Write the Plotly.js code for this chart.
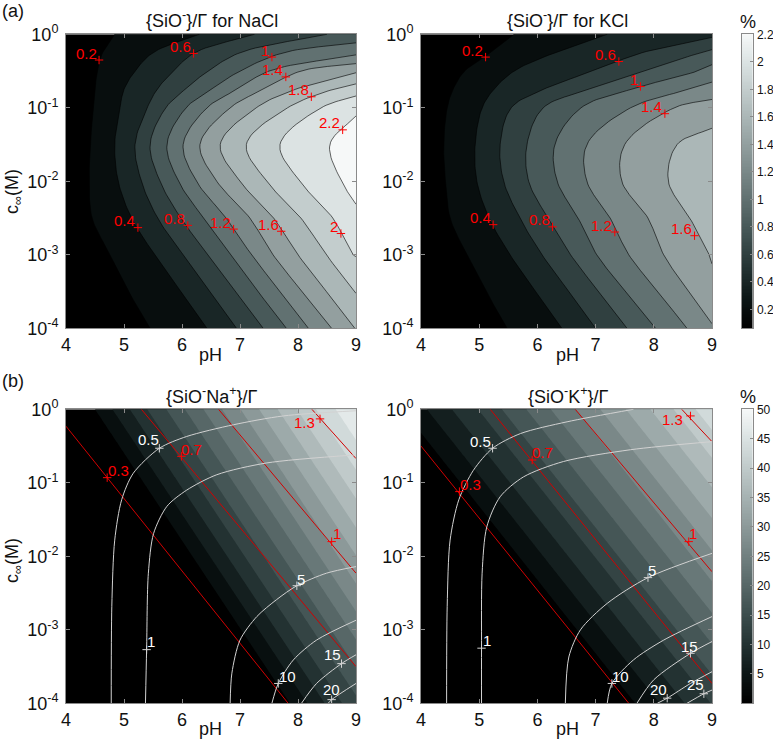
<!DOCTYPE html>
<html><head><meta charset="utf-8">
<script src="https://cdn.plot.ly/plotly-3.0.1.min.js"></script>
<style>body{margin:0;background:#fff}#chart{width:773px;height:741px}</style>
</head><body><div id="chart"></div><script>
// ================= DATA =================
const rowLogC = [0, -0.25, -0.5, -0.75, -1, -1.5, -2, -2.5, -3, -3.5, -4];
const topLevels = [0.2, 0.4, 0.6, 0.8, 1.0, 1.2, 1.4, 1.6, 1.8, 2.0, 2.2];
// pH at which each level is crossed, per row (NaCl)
const naclCross = [
  [4.84, 6.3, 7.25, 8.5],
  [4.63, 5.5, 6.22, 7.0, 7.75],
  [4.54, 5.19, 5.85, 6.45, 7.0, 7.5, 8.05],
  [4.5, 5.0, 5.57, 6.05, 6.5, 6.95, 7.4, 7.95, 8.6],
  [4.47, 4.93, 5.4, 5.72, 6.07, 6.43, 6.83, 7.28, 7.82, 8.4],
  [4.42, 4.84, 5.19, 5.45, 5.74, 6.02, 6.31, 6.66, 7.11, 7.69, 8.55],
  [4.40, 4.90, 5.30, 5.62, 5.94, 6.25, 6.6, 7.0, 7.46, 8.03, 8.75],
  [4.45, 5.13, 5.58, 5.98, 6.37, 6.76, 7.17, 7.58, 8.05, 8.6],
  [4.76, 5.53, 6.02, 6.45, 6.83, 7.20, 7.57, 8.0, 8.49, 8.95],
  [5.08, 5.98, 6.48, 6.93, 7.31, 7.69, 8.07, 8.49, 8.97],
  [5.45, 6.43, 6.94, 7.40, 7.80, 8.18, 8.58, 8.98]
];
const naclAtPH9 = [0.87, 1.15, 1.57, 1.9, 2.18, 2.27, 2.25, 2.17, 2.01, 1.81, 1.61];
const kclCross = [
  [5.6, 7.2],
  [5.2, 6.3, 7.8, 8.8],
  [4.75, 5.6, 6.95, 7.85, 8.75],
  [4.55, 5.25, 6.1, 6.9, 7.6, 8.6],
  [4.45, 5.05, 5.55, 6.1, 6.75, 7.6, 8.35],
  [4.39, 4.93, 5.36, 5.82, 6.3, 6.85, 7.5, 8.4],
  [4.42, 4.96, 5.42, 5.85, 6.34, 6.85, 7.45, 8.25],
  [4.5, 5.17, 5.7, 6.18, 6.7, 7.25, 7.9, 8.62],
  [4.79, 5.53, 6.08, 6.57, 7.02, 7.57, 8.17, 8.95],
  [5.12, 5.97, 6.54, 7.05, 7.52, 8.07, 8.6],
  [5.48, 6.42, 7.0, 7.54, 8.03, 8.57]
];
const kclAtPH9 = [0.55, 0.85, 1.08, 1.28, 1.5, 1.68, 1.75, 1.72, 1.62, 1.54, 1.38];

const naclLabVal = ['0.2','0.6','1','1.4','1.8','2.2','0.4','0.8','1.2','1.6','2'];
const naclLabPH  = [4.57, 6.20, 7.55, 7.79, 8.23, 8.77, 5.24, 6.10, 6.89, 7.71, 8.74];
const naclLabLC  = [-0.35, -0.26, -0.31, -0.58, -0.85, -1.30, -2.63, -2.60, -2.65, -2.68, -2.71];
const kclLabVal = ['0.2','0.6','1','1.4','0.4','0.8','1.2','1.6'];
const kclLabPH  = [5.11, 7.40, 7.77, 8.19, 5.24, 6.26, 7.33, 8.70];
const kclLabLC  = [-0.31, -0.37, -0.71, -1.08, -2.59, -2.62, -2.69, -2.74];

// bottom: filled bands {SiO-M+}/Gamma (%) - levels, and pH where each crosses log c = 0 and log c = -4
const fillLevels = [3.3333,6.6667,10,13.3333,16.6667,20,23.3333,26.6667,30,33.3333,36.6667,40,43.3333,46.6667];
const naFillTop = [4.5, 4.8, 5.1, 5.4, 5.73, 6.05, 6.37, 6.69, 7.01, 7.33, 7.65, 7.98, 8.31, 8.65];
const naFillBot = [7.86, 8.16, 8.46, 8.76, 9.09, 9.41, 9.73, 10.05, 10.37, 10.69, 11.01, 11.34, 11.67, 12.01];
const kFillTop = [3.68, 4.1, 4.53, 4.98, 5.39, 5.81, 6.23, 6.66, 7.08, 7.52, 7.94, 8.34, 8.72, 9.1];
const kFillBot = [7.68, 8.1, 8.53, 8.98, 9.39, 9.81, 10.23, 10.66, 11.08, 11.52, 11.94, 12.34, 12.72, 13.1];

const naRedVal = ['0.3','0.7','1','1.3'];
const naRedPH = [[4.0, 7.83], [5.30, 9.0], [6.63, 9.0], [8.24, 9.0]];
const naRedLC = [[-0.23, -4], [0, -3.5], [0, -2.23], [0, -0.67]];
const naRedLabPH = [4.71, 5.99, 8.58, 8.38];
const naRedLabLC = [-0.93, -0.64, -1.80, -0.13];
const kRedVal = ['0.3','0.7','1','1.3'];
const kRedPH = [[4.0, 7.57], [5.19, 9.0], [6.65, 9.0], [8.48, 9.0]];
const kRedLC = [[-0.5, -4], [0, -3.73], [0, -2.21], [0, -0.44]];
const kRedLabPH = [4.66, 5.91, 8.60, 8.63];
const kRedLabLC = [-1.12, -0.69, -1.80, -0.09];

const naWhiteVal = ['0.5','1','5','10','15','20'];
const naWhitePH = [
  [4.78, 4.79, 4.84, 4.96, 5.16, 5.61, 6.08, 6.89, 7.75, 9.0],
  [5.37, 5.39, 5.42, 5.51, 5.74, 6.08, 6.60, 7.46, 9.0],
  [6.83, 6.86, 7.0, 7.29, 7.63, 7.98, 8.49, 9.0],
  [7.55, 7.66, 7.92, 8.32, 9.0],
  [8.06, 8.32, 8.75, 9.0],
  [8.52, 8.58, 9.0]
];
const naWhiteLC = [
  [-4, -2.68, -1.78, -1.23, -0.87, -0.53, -0.37, -0.21, -0.09, -0.02],
  [-4, -3.27, -2.23, -1.69, -1.32, -1.10, -0.89, -0.73, -0.62],
  [-4, -3.59, -3.14, -2.82, -2.59, -2.40, -2.23, -2.14],
  [-4, -3.73, -3.41, -3.14, -2.87],
  [-4, -3.73, -3.46, -3.34],
  [-4, -3.95, -3.73]
];
const naWhiteLabPH = [5.61, 5.39, 7.98, 7.66, 8.75, 8.58];
const naWhiteLabLC = [-0.53, -3.27, -2.40, -3.73, -3.46, -3.95];
const kWhiteVal = ['0.5','1','5','10','15','20','25'];
const kWhitePH = [
  [4.44, 4.45, 4.50, 4.65, 4.90, 5.23, 5.71, 6.51, 7.65],
  [5.04, 5.04, 5.05, 5.13, 5.36, 5.76, 6.45, 7.60, 9.0],
  [6.48, 6.54, 6.74, 7.20, 7.90, 9.0],
  [7.20, 7.28, 7.65, 8.17, 9.0],
  [7.71, 8.0, 8.63, 9.0],
  [8.06, 8.23, 8.63, 9.0],
  [8.57, 8.86, 9.0]
];
const kWhiteLC = [
  [-4, -2.68, -1.78, -1.23, -0.83, -0.53, -0.33, -0.17, 0],
  [-4, -3.25, -2.23, -1.60, -1.19, -0.92, -0.71, -0.55, -0.44],
  [-4, -3.37, -3.0, -2.64, -2.29, -1.96],
  [-4, -3.73, -3.41, -3.14, -2.82],
  [-4, -3.68, -3.32, -3.16],
  [-4, -3.93, -3.73, -3.57],
  [-4, -3.87, -3.82]
];
const kWhiteLabPH = [5.23, 5.04, 7.90, 7.28, 8.63, 8.23, 8.86];
const kWhiteLabLC = [-0.53, -3.25, -2.29, -3.73, -3.32, -3.93, -3.87];

const xTicks = [4, 5, 6, 7, 8, 9];
const yTicks = [-4, -3, -2, -1, 0];
const yTickText = ['10<sup>-4</sup>','10<sup>-3</sup>','10<sup>-2</sup>','10<sup>-1</sup>','10<sup>0</sup>'];
const cbTopTicks = [0.2,0.4,0.6,0.8,1,1.2,1.4,1.6,1.8,2,2.2];
const cbBotTicks = [5,10,15,20,25,30,35,40,45,50];

// ================= STYLE / HELPERS =================
const F = '"Liberation Sans", Arial, Helvetica, sans-serif';
const W = 773, H = 741;
const cmapStops = [
  [0.0, [0,0,0]], [0.1, [12,22,22]], [0.2, [35,50,50]], [0.3, [60,77,77]],
  [0.4, [87,103,103]], [0.5, [113,128,128]], [0.6, [140,153,153]], [0.7, [166,178,178]],
  [0.8, [192,202,202]], [0.9, [218,226,226]], [1.0, [246,248,248]]
];
function cmap(t){
  t = Math.max(0, Math.min(1, t));
  for (let i = 1; i < cmapStops.length; i++) {
    if (t <= cmapStops[i][0] + 1e-12) {
      const [t0, c0] = cmapStops[i-1], [t1, c1] = cmapStops[i];
      const f = (t - t0) / (t1 - t0);
      return 'rgb(' + c0.map((v, j) => Math.round(v + (c1[j] - v) * f)).join(',') + ')';
    }
  }
  return 'rgb(246,248,248)';
}
function bandScale(levels, cmin, cmax){
  const nc = levels.length, sc = [[0, cmap(0)]];
  for (let k = 1; k <= nc; k++) sc.push([k / nc, cmap((levels[k-1] - cmin) / (cmax - cmin))]);
  return sc;
}
function lin(xs, zs, x){
  if (x <= xs[0]) return zs[0];
  for (let i = 1; i < xs.length; i++) if (x <= xs[i]) { const f = (x - xs[i-1]) / (xs[i] - xs[i-1]); return zs[i-1] + f * (zs[i] - zs[i-1]); }
  return zs[zs.length - 1];
}
function linEx(xs, zs, x){
  const n = xs.length;
  if (x <= xs[0]) return zs[0] + (x - xs[0]) * (zs[1] - zs[0]) / (xs[1] - xs[0]);
  if (x >= xs[n-1]) return zs[n-1] + (x - xs[n-1]) * (zs[n-1] - zs[n-2]) / (xs[n-1] - xs[n-2]);
  return lin(xs, zs, x);
}
const SX = 58, SY = 73.5;
function catmull(pts, n){
  const m = pts.length;
  if (m < 2) return pts.slice();
  const P = [[2*pts[0][0]-pts[1][0], 2*pts[0][1]-pts[1][1]], ...pts,
             [2*pts[m-1][0]-pts[m-2][0], 2*pts[m-1][1]-pts[m-2][1]]];
  const dd = (a, b) => Math.pow(Math.hypot((a[0]-b[0])*SX, (a[1]-b[1])*SY), 0.5) + 1e-6;
  const lerp = (a, b, ta, tb, t) => [a[0] + (b[0]-a[0])*(t-ta)/(tb-ta), a[1] + (b[1]-a[1])*(t-ta)/(tb-ta)];
  const out = [];
  for (let i = 1; i < P.length - 2; i++) {
    const p0 = P[i-1], p1 = P[i], p2 = P[i+1], p3 = P[i+2];
    const t0 = 0, t1 = t0 + dd(p0, p1), t2 = t1 + dd(p1, p2), t3 = t2 + dd(p2, p3);
    for (let k = 0; k < n; k++) {
      const t = t1 + (t2 - t1) * k / n;
      const A1 = lerp(p0, p1, t0, t1, t), A2 = lerp(p1, p2, t1, t2, t), A3 = lerp(p2, p3, t2, t3, t);
      const B1 = lerp(A1, A2, t0, t2, t), B2 = lerp(A2, A3, t1, t3, t);
      out.push(lerp(B1, B2, t1, t2, t));
    }
  }
  out.push(pts[m-1]);
  return out;
}
function levelCurve(cross, atPH9, i){
  const L = topLevels[i], pts = [];
  for (let r = 0; r < rowLogC.length; r++) {
    if (r > 0) {
      const z0 = atPH9[r-1] - L, z1 = atPH9[r] - L;
      if (z0 * z1 < 0) { const f = z0 / (z0 - z1); pts.push([9, rowLogC[r-1] + f * (rowLogC[r] - rowLogC[r-1])]); }
    }
    const p = cross[r][i];
    if (p != null && p > 4 && p < 9) pts.push([p, rowLogC[r]]);
  }
  return pts;
}

const topCmin = 0.062, topCmax = 2.2, botCmin = 0, botCmax = 50;
const data = [];
function addTopPanel(cross, atPH9, xa, ya){
  data.push({type:'scatter', mode:'lines', x:[4, 9, 9, 4], y:[-4, -4, 0, 0], fill:'toself', fillcolor:cmap(0),
    line:{width:0}, xaxis:xa, yaxis:ya, hoverinfo:'skip', showlegend:false});
  const curves = [];
  topLevels.forEach((L, i) => {
    const pts = levelCurve(cross, atPH9, i);
    if (pts.length < 2) return;
    const c = catmull(pts, 14);
    curves.push(c);
    const S = c[0], E = c[c.length - 1];
    const Ep = (E[1] <= -3.999) ? [E[0], -4.6] : [9.6, E[1]];
    const Sp = (S[1] >= -0.001) ? [S[0], 0.6] : [9.6, S[1]];
    const poly = c.concat([Ep, [9.6, Ep[1]], [9.6, Sp[1]], Sp]);
    data.push({type:'scatter', mode:'lines', x:poly.map(p => p[0]), y:poly.map(p => p[1]), fill:'toself',
      fillcolor:cmap((L - topCmin) / (topCmax - topCmin)), line:{width:0}, xaxis:xa, yaxis:ya,
      hoverinfo:'skip', showlegend:false});
  });
  curves.forEach(c => data.push({type:'scatter', mode:'lines', x:c.map(p => p[0]), y:c.map(p => p[1]),
    line:{color:'#000', width:0.6}, xaxis:xa, yaxis:ya, hoverinfo:'skip', showlegend:false}));
}
addTopPanel(naclCross, naclAtPH9, 'x', 'y');
addTopPanel(kclCross, kclAtPH9, 'x2', 'y2');

const gx = []; for (let i = 0; i <= 200; i++) gx.push(4 + i * 0.025);
const gy = []; for (let i = 0; i <= 100; i++) gy.push(-4 + i * 0.04);
function buildFillGrid(topPH, botPH){
  return gy.map(y => { const f = -y / 4; const ps = topPH.map((t, k) => t + (botPH[k] - t) * f);
    return gx.map(x => linEx(ps, fillLevels, x)); });
}
const fStart = fillLevels[0], fEnd = fillLevels[fillLevels.length - 1];
const fSize = (fEnd - fStart) / (fillLevels.length - 1);
function fillContour(z, xa, ya){
  return {type:'contour', x:gx, y:gy, z:z, xaxis:xa, yaxis:ya, autocontour:false,
    contours:{start:fStart, end:fEnd, size:fSize, coloring:'fill', showlines:false},
    line:{width:0, smoothing:0},
    colorscale: bandScale(fillLevels, botCmin, botCmax), zauto:false, zmin:fStart - fSize/2, zmax:fEnd + fSize/2,
    showscale:false, hoverinfo:'skip'};
}
data.push(fillContour(buildFillGrid(naFillTop, naFillBot), 'x3', 'y3'));
data.push(fillContour(buildFillGrid(kFillTop, kFillBot), 'x4', 'y4'));

const RED = 'rgb(255,0,0)', REDL = 'rgb(210,0,0)', WHITE = 'rgb(210,210,210)';
function addLines(phs, lcs, xa, ya, color, shape){
  phs.forEach((xs, i) => data.push({type:'scatter', mode:'lines', x:xs, y:lcs[i], xaxis:xa, yaxis:ya,
    line:{color:color, width:1, shape:shape, smoothing:0.8}, hoverinfo:'skip', showlegend:false}));
}
addLines(naRedPH, naRedLC, 'x3', 'y3', REDL, 'linear');
addLines(kRedPH, kRedLC, 'x4', 'y4', REDL, 'linear');
addLines(naWhitePH, naWhiteLC, 'x3', 'y3', WHITE, 'spline');
addLines(kWhitePH, kWhiteLC, 'x4', 'y4', WHITE, 'spline');

function addMarks(xs, ys, xa, ya, color){
  data.push({type:'scatter', mode:'markers', x:xs, y:ys, xaxis:xa, yaxis:ya, hoverinfo:'skip', showlegend:false,
    marker:{symbol:'cross-thin', size:6, line:{color:color, width:1}}});
}
addMarks(naclLabPH, naclLabLC, 'x', 'y', RED);
addMarks(kclLabPH, kclLabLC, 'x2', 'y2', RED);
addMarks(naRedLabPH, naRedLabLC, 'x3', 'y3', RED);
addMarks(kRedLabPH, kRedLabLC, 'x4', 'y4', RED);
addMarks(naWhiteLabPH, naWhiteLabLC, 'x3', 'y3', WHITE);
addMarks(kWhiteLabPH, kWhiteLabLC, 'x4', 'y4', WHITE);

const cbTopY = []; for (let i = 0; i <= 200; i++) cbTopY.push(topCmin + (topCmax - topCmin) * i / 200);
const cbBotY = []; for (let i = 0; i <= 200; i++) cbBotY.push(botCmin + (botCmax - botCmin) * i / 200);
const cmapScale = cmapStops.map(s => [s[0], 'rgb(' + s[1].join(',') + ')']);
data.push({type:'heatmap', x:[0,1], y:cbTopY, z:cbTopY.map(v => [v, v]), xaxis:'x5', yaxis:'y5',
  colorscale:cmapScale, zmin:topCmin, zmax:topCmax, showscale:false, hoverinfo:'skip'});
data.push({type:'heatmap', x:[0,1], y:cbBotY, z:cbBotY.map(v => [v, v]), xaxis:'x6', yaxis:'y6',
  colorscale:cmapScale, zmin:botCmin, zmax:botCmax, showscale:false, hoverinfo:'skip'});

// ================= LAYOUT =================
const AX = '#8a8a8a';
function px2x(a, b){ return [a / W, b / W]; }
function py2y(top, bot){ return [1 - bot / H, 1 - top / H]; }
function xax(dom, anchor){
  return {domain:dom, anchor:anchor, range:[4, 9], tickvals:xTicks, ticks:'inside', ticklen:4, tickcolor:AX,
    showline:true, linecolor:AX, linewidth:1, mirror:'ticks', showgrid:false, zeroline:false,
    tickfont:{family:F, size:18, color:'#111'}};
}
function yax(dom, anchor){
  return {domain:dom, anchor:anchor, range:[-4, 0], tickvals:yTicks, ticktext:yTickText,
    ticks:'inside', ticklen:4, tickcolor:AX, showline:true, linecolor:AX, linewidth:1, mirror:'ticks',
    showgrid:false, zeroline:false, tickfont:{family:F, size:18, color:'#111'}, ticklabelstandoff:3};
}
const xL = px2x(66, 356), xR = px2x(421, 712), xCB = px2x(741.5, 752.5);
const yT = py2y(34.3, 328.3), yB = py2y(409.3, 703.3);
function cbx(dom, anchor){ return {domain:dom, anchor:anchor, range:[0, 1], showticklabels:false, ticks:'',
  showline:true, linecolor:AX, mirror:true, showgrid:false, zeroline:false}; }
function cby(dom, anchor, rng, tv){ return {domain:dom, anchor:anchor, range:rng, side:'right', tickvals:tv,
  ticktext:tv.map(v => String(v)), ticks:'inside', ticklen:3, tickcolor:AX, showline:true, linecolor:AX, mirror:true,
  showgrid:false, zeroline:false, tickfont:{family:F, size:12, color:'#111'}, ticklabelstandoff:1}; }

const ann = [];
function pa(text, x, y, size, extra){ ann.push(Object.assign({text:text, xref:'paper', yref:'paper', x:x / W, y:1 - y / H,
  showarrow:false, xanchor:'center', yanchor:'middle', font:{family:F, size:size, color:'#111'}}, extra || {})); }
pa('(a)', 13, 11, 18);
pa('(b)', 13, 381, 18);
pa('{SiO<sup>-</sup>}/Γ for NaCl', 212, 19, 18);
pa('{SiO<sup>-</sup>}/Γ for KCl', 567, 19, 18);
pa('{SiO<sup>-</sup>Na<sup>+</sup>}/Γ', 212, 395, 18);
pa('{SiO<sup>-</sup>K<sup>+</sup>}/Γ', 568, 395, 18);
pa('%', 748, 22, 18);
pa('%', 748, 397, 18);
pa('c<sub>∞</sub>(M)', 13, 191, 18, {textangle:-90});
pa('c<sub>∞</sub>(M)', 13, 560, 18, {textangle:-90});
pa('pH', 211, 355, 18); pa('pH', 567, 355, 18);
pa('pH', 211, 729, 18); pa('pH', 567, 729, 18);

function topLabels(vals, xs, ys, xa, ya){
  vals.forEach((t, i) => ann.push({text:t, xref:xa, yref:ya, x:xs[i], y:ys[i], showarrow:false,
    xanchor:'right', yanchor:'middle', xshift:-1.5, yshift:7, borderpad:0,
    font:{family:F, size:15, color:RED}}));
}
topLabels(naclLabVal, naclLabPH, naclLabLC, 'x', 'y');
topLabels(kclLabVal, kclLabPH, kclLabLC, 'x2', 'y2');
const naRedOff = [[11,-7.3],[10,-7.3],[5,-8.3],[-16,3.7]];
const kRedOff = [[11,-6.7],[10.7,-7.3],[4.3,-8.3],[-17.7,4]];
const naWhiteOff = [[-11,-8.3],[4,-7.7],[4.3,-6.7],[9,-7.3],[-9,-9.3],[0,-10]];
const kWhiteOff = [[-12,-6.7],[5,-7.7],[4,-7.3],[9,-7.3],[-0.7,-7.3],[-9,-8.3],[-8.3,-9]];
function offLabels(vals, xs, ys, off, xa, ya, color){
  vals.forEach((t, i) => ann.push({text:t, xref:xa, yref:ya, x:xs[i], y:ys[i], showarrow:false,
    xanchor:'center', yanchor:'middle', xshift:off[i][0], yshift:-off[i][1], borderpad:0,
    font:{family:F, size:15, color:color}}));
}
offLabels(naRedVal, naRedLabPH, naRedLabLC, naRedOff, 'x3', 'y3', RED);
offLabels(kRedVal, kRedLabPH, kRedLabLC, kRedOff, 'x4', 'y4', RED);
offLabels(naWhiteVal, naWhiteLabPH, naWhiteLabLC, naWhiteOff, 'x3', 'y3', '#fff');
offLabels(kWhiteVal, kWhiteLabPH, kWhiteLabLC, kWhiteOff, 'x4', 'y4', '#fff');

const layout = {
  width:W, height:H, margin:{l:0, r:0, t:0, b:0}, paper_bgcolor:'#fff', plot_bgcolor:'#fff',
  showlegend:false, hovermode:false,
  xaxis:xax(xL, 'y'), yaxis:yax(yT, 'x'),
  xaxis2:xax(xR, 'y2'), yaxis2:yax(yT, 'x2'),
  xaxis3:xax(xL, 'y3'), yaxis3:yax(yB, 'x3'),
  xaxis4:xax(xR, 'y4'), yaxis4:yax(yB, 'x4'),
  xaxis5:cbx(xCB, 'y5'), yaxis5:cby(yT, 'x5', [topCmin, topCmax], cbTopTicks),
  xaxis6:cbx(xCB, 'y6'), yaxis6:cby(yB, 'x6', [botCmin, botCmax], cbBotTicks),
  annotations:ann
};
Plotly.newPlot('chart', data, layout, {staticPlot:true, displayModeBar:false});
</script></body></html>
